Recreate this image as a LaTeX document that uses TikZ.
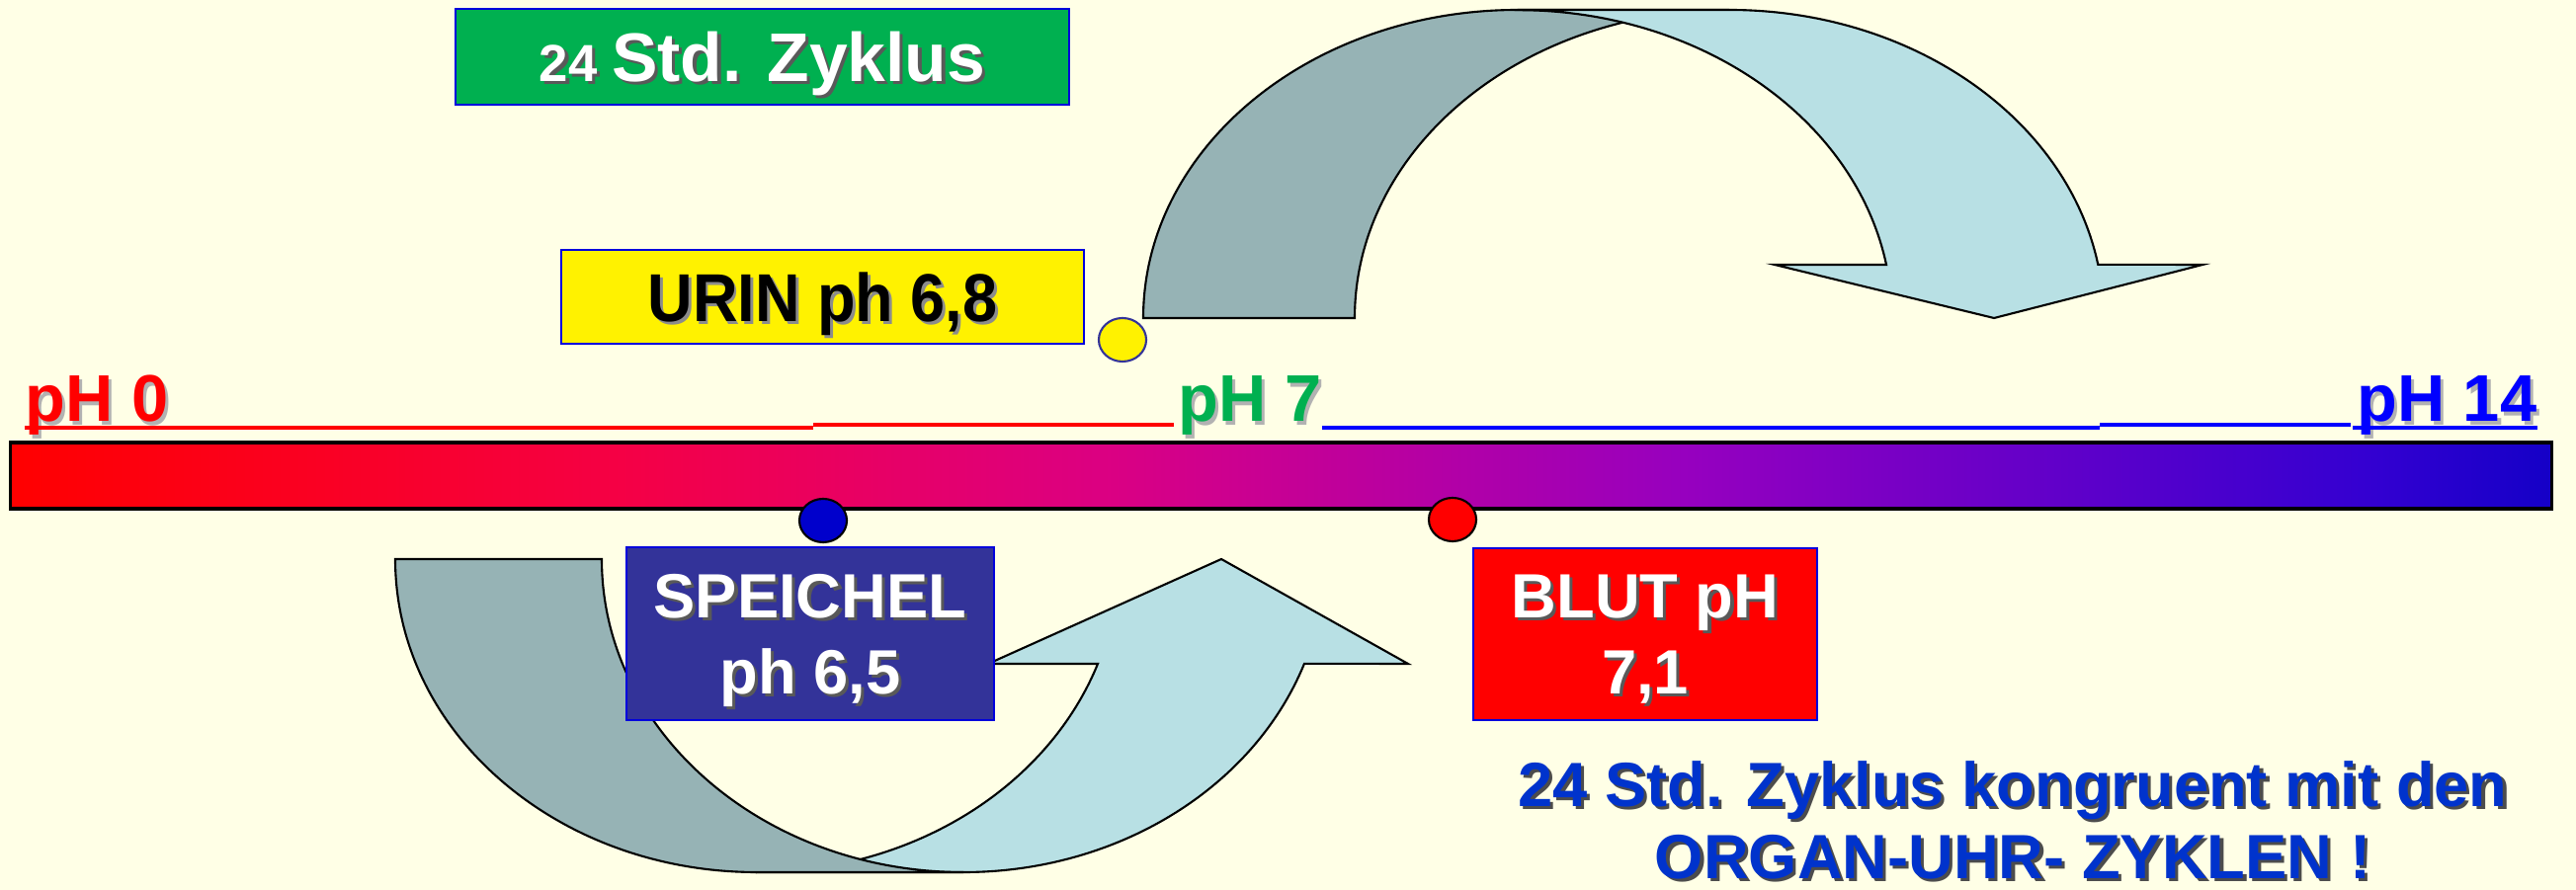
\documentclass[tikz,border=0pt]{standalone}
\usepackage{fontspec}
\setmainfont{Liberation Sans}
\usetikzlibrary{shapes.geometric}

\definecolor{bgyellow}{RGB}{255,255,230}
\definecolor{bandgray}{RGB}{150,179,181}
\definecolor{bandblue}{RGB}{184,224,228}
\definecolor{zyklusgreen}{RGB}{0,176,80}
\definecolor{speichelblue}{RGB}{51,51,153}
\definecolor{noteblue}{RGB}{0,51,204}
\definecolor{boxline}{RGB}{0,0,220}
\definecolor{dotblue}{RGB}{0,0,204}

\pgfdeclarehorizontalshading{phshade}{100bp}{rgb(0bp)=(1,0,0); rgb(25bp)=(1,0,0); rgb(37bp)=(0.96,0,0.27); rgb(46.5bp)=(0.86,0,0.51); rgb(58bp)=(0.59,0,0.75); rgb(71.5bp)=(0.2,0,0.82); rgb(75bp)=(0.08,0,0.78); rgb(100bp)=(0.08,0,0.78)}

\newcommand\withshadow[2][black!65]{\makebox[0pt][l]{\kern0.9pt\raisebox{-0.9pt}{\textcolor{#1}{#2}}}#2}

\begin{document}
\begin{tikzpicture}[x=0.01cm, y=-0.01cm,
    box/.style={rectangle, draw=boxline, line width=0.6pt, inner sep=0pt, text=white, align=center, text depth=0pt, font=\bfseries\fontsize{18}{21.9}\selectfont},
    dot/.style={ellipse, draw, line width=0.6pt, minimum width=0.48cm, minimum height=0.44cm, inner sep=0pt},
    band/.style={draw, line width=0.6pt},
    phlabel/.style={inner sep=0pt, font=\bfseries\fontsize{19}{22}\selectfont},
    phline/.style={line width=1.4pt}]
    \useasboundingbox (0,0) rectangle (2607,901);
    \fill[bgyellow] (0,0) rectangle (2607,901);

    % Arrows
    \draw[band, fill=bandgray] (1157,322) arc[start angle=180, end angle=270, x radius=379, y radius=312] -- (1750,10) arc[start angle=270, end angle=180, x radius=379, y radius=312] -- cycle;
    \draw[band, fill=bandblue] (1536,10) -- (1750,10) arc[start angle=270, end angle=350, x radius=379, y radius=312] -- (2229,268) -- (2018,322) -- (1796,268) -- (1909,268) arc[start angle=350, end angle=270, x radius=379, y radius=312] -- cycle;
    \draw[band, fill=bandblue] (766,883) -- (975,883) arc[start angle=90, end angle=19.5, x radius=366, y radius=317] -- (1425,672) -- (1236,566) -- (1000,672) -- (1111,672) arc[start angle=19.5, end angle=90, x radius=366, y radius=317] -- cycle;
    \draw[band, fill=bandgray] (400,566) arc[start angle=180, end angle=90, x radius=366, y radius=317] -- (975,883) arc[start angle=90, end angle=180, x radius=366, y radius=317] -- cycle;

    % Scale
    \node (phbar) [draw, line width=0.9pt, inner sep=0pt, minimum width=25.71cm, minimum height=0.67cm, shading=phshade] at (1296.5,481.5) {};
    \node (ph0) [phlabel, text=red, anchor=base west] at (25,427) {\withshadow[black!30]{pH 0}};
    \node (ph7) [phlabel, text=zyklusgreen, anchor=base west] at (1192,427) {\withshadow[black!30]{pH 7}};
    \node (ph14) [phlabel, text=blue, anchor=base east] at (2568,427) {\withshadow[black!30]{pH 14}};
    \draw[phline, red] (25,433) -- (823,433);
    \draw[phline, red] (823,430) -- (1188,430);
    \draw[phline, blue] (1338,433) -- (2125,433);
    \draw[phline, blue] (2125,430) -- (2379,430);
    \draw[phline, blue] (2381,433) -- (2568,433);

    % Dots
    \node (urindot) [dot, fill=yellow, draw=speichelblue] at (1136,344) {};
    \node (speicheldot) [dot, fill=dotblue] at (833,527) {};
    \node (blutdot) [dot, fill=red] at (1470,526) {};

    % Boxes
    \node (zyklus) [box, fill=zyklusgreen, minimum width=6.21cm, minimum height=0.97cm] at (771.5,57.5) {\withshadow{\fontsize{15}{18}\selectfont 24 \fontsize{19.8}{23}\selectfont Std. Zyklus}};
    \node (urin) [box, fill=yellow, text=black, minimum width=5.29cm, minimum height=0.95cm, font=\bfseries\fontsize{19.5}{23}\selectfont] at (832.5,300.5) {\scalebox{0.92}[1]{\withshadow[black!45]{URIN ph 6,8}}};
    \node (speichel) [box, fill=speichelblue, minimum width=3.72cm, minimum height=1.75cm] at (820,641.5) {\withshadow{SPEICHEL}\\\withshadow{ph 6,5}};
    \node (blut) [box, fill=red, minimum width=3.48cm, minimum height=1.74cm] at (1665,642) {\withshadow{BLUT pH}\\\withshadow{7,1}};
    \node (note) [phlabel, text=noteblue, align=center, anchor=north, font=\bfseries\fontsize{18}{20.8}\selectfont] at (2037,770) {\withshadow[black!70]{24 Std. Zyklus kongruent mit den}\\\withshadow[black!70]{ORGAN-UHR- ZYKLEN !}};
\end{tikzpicture}
\end{document}
